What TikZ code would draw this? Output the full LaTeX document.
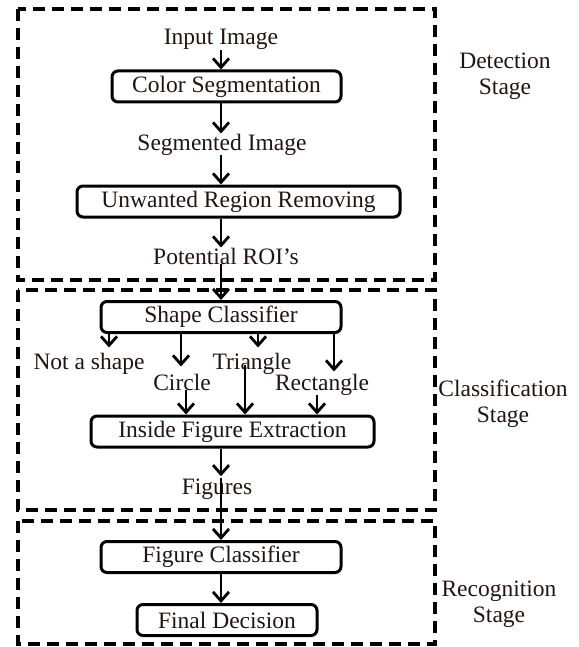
\documentclass[tikz,border=0pt]{standalone}
\usepackage{fontspec}
\setmainfont{Liberation Serif}
\usetikzlibrary{arrows.meta}
\definecolor{txtcol}{RGB}{35,20,20}

\begin{document}
\begin{tikzpicture}[x=1pt, y=-1pt,
	every node/.style={font=\fontsize{23.5}{26}\selectfont, text=txtcol},
	proc/.style={draw, rounded corners=6pt, line width=3pt, minimum height=31pt, inner sep=0pt},
	lbl/.style={anchor=base, inner sep=0pt},
	arr/.style={line width=2.8pt, -{Straight Barb[length=9pt, width=16pt, line width=2.8pt]}},
	stagebox/.style={line width=3.5pt, dash pattern=on 12pt off 7pt}]
	\useasboundingbox (0,0) rectangle (578,647);
	
	% Stage boxes
	\draw[stagebox] (18,9) rectangle (435,280);
	\draw[stagebox] (18,290) rectangle (435,510);
	\draw[stagebox] (18,521) rectangle (435,644);
	
	% Detection stage
	\node[lbl] (input) at (221,45) {Input Image};
	\node[proc, minimum width=229pt] (colorseg) at (226.5,86.5) {Color Segmentation};
	\node[lbl] (segimg) at (222,150) {Segmented Image};
	\node[proc, minimum width=323pt] (unwanted) at (238.5,201.5) {Unwanted Region Removing};
	\node[lbl] (roi) at (226,264) {Potential ROI’s};
	
	% Classification stage
	\node[proc, minimum width=240pt] (shapecls) at (221,317) {Shape Classifier};
	\node[lbl] (notshape) at (89,369) {Not a shape};
	\node[lbl] (triangle) at (252,369) {Triangle};
	\node[lbl] (circle) at (182,390) {Circle};
	\node[lbl] (rectangle) at (322,390) {Rectangle};
	\node[proc, minimum width=283pt] (ife) at (232.5,431.5) {Inside Figure Extraction};
	\node[lbl] (figures) at (217,494) {Figures};
	
	% Recognition stage
	\node[proc, minimum width=240pt] (figcls) at (221,557) {Figure Classifier};
	\node[proc, minimum width=180pt] (decision) at (227,620) {Final Decision};
	
	% Stage names
	\node[align=center] (detlbl) at (505,76) {Detection\\Stage};
	\node[align=center] (clslbl) at (503,404) {Classification\\Stage};
	\node[align=center] (reclbl) at (499,604) {Recognition\\Stage};
	
	% Main flow
	\draw[arr] (input.south) -- (input.south |- colorseg.north);
	\draw[arr] (colorseg.south -| input) -- (segimg.north -| input);
	\draw[arr] (segimg.south -| input) -- (unwanted.north -| input);
	\draw[arr] (unwanted.south -| input) -- (roi.north -| input);
	\draw[arr] (roi.south -| input) -- (shapecls.north -| input);
	
	% Shape branches
	\draw[arr, shorten >=5pt] ([xshift=-112pt]shapecls.south) -- ([xshift=-112pt]shapecls.south |- notshape.north);
	\draw[arr, shorten >=7pt] ([xshift=-40pt]shapecls.south) -- ([xshift=-40pt]shapecls.south |- circle.north);
	\draw[arr, shorten >=5pt] ([xshift=37pt]shapecls.south) -- ([xshift=37pt]shapecls.south |- triangle.north);
	\draw[arr, shorten >=2pt] ([xshift=113pt]shapecls.south) -- ([xshift=113pt]shapecls.south |- rectangle.north);
	
	\draw[arr] ([xshift=4pt]circle.south) -- ([xshift=4pt]circle.south |- ife.north);
	\draw[arr] ([xshift=-7pt, yshift=4pt]triangle.base) -- ([xshift=-7pt]triangle.base |- ife.north);
	\draw[arr] ([xshift=-5pt]rectangle.south) -- ([xshift=-5pt]rectangle.south |- ife.north);
	
	\draw[arr, shorten >=2pt] (ife.south -| input) -- (figures.north -| input);
	\draw[arr] (figures.north -| input) -- (figcls.north -| input);
	\draw[arr] (figcls.south -| input) -- (decision.north -| input);
\end{tikzpicture}
\end{document}
